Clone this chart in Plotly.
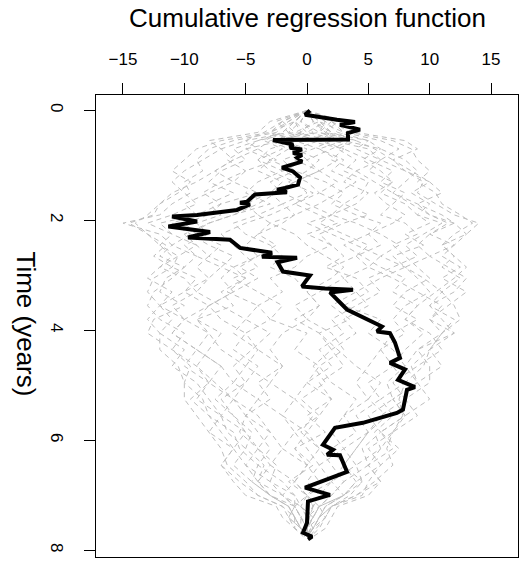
import plotly.graph_objects as go

# Observed cumulative regression function (black)
obs_time = [0.0, 0.08, 0.17, 0.21, 0.26, 0.35, 0.41, 0.53, 0.54, 0.62, 0.68, 0.71, 0.77, 0.81, 0.86, 0.93,
            1.04, 1.11, 1.22, 1.35, 1.41, 1.44, 1.49, 1.50, 1.53, 1.66, 1.68, 1.71, 1.81, 1.90, 1.93, 2.02,
            2.11, 2.21, 2.31, 2.35, 2.50, 2.59, 2.66, 2.68, 2.76, 2.93, 3.0, 3.2, 3.24, 3.26, 3.31, 3.62,
            3.80, 3.93, 4.02, 4.05, 4.22, 4.50, 4.59, 4.71, 4.90, 5.03, 5.08, 5.44, 5.50, 5.68, 5.77, 6.08,
            6.17, 6.26, 6.27, 6.57, 6.86, 6.99, 7.11, 7.50, 7.68, 7.75, 7.80]
obs_value = [0.24, -0.16, 2.44, 3.91, 2.69, 4.32, 3.34, 3.34, -2.77, -1.14, -1.39, -0.41, -1.14, -0.41, -0.81, -0.41,
             -2.04, -1.14, -0.57, -0.73, -1.79, -2.44, -1.63, -2.77, -4.24, -4.89, -5.46, -4.65, -5.71, -8.96, -11.0, -8.96,
             -11.3, -7.9, -9.7, -6.28, -5.46, -2.85, -3.67, -0.81, -2.4, -1.96, 0.24, -0.41, 1.47, 3.75, 1.87, 3.26,
             4.89, 6.11, 5.7, 6.76, 7.17, 7.58, 6.76, 7.99, 7.42, 8.8, 8.15, 7.82, 7.33, 4.56, 2.28, 1.3,
             2.12, 1.63, 2.69, 3.26, -0.16, 1.87, 0.08, 0.0, -0.33, 0.41, 0.08]

# Simulated processes under the null (grey dashed)
sim_time = [0, 0.2, 0.4, 0.55, 0.7, 0.9, 1.1, 1.3, 1.5, 1.7, 1.9, 2.05, 2.25, 2.45, 2.65, 2.85, 3.05, 3.3,
            3.55, 3.8, 4.05, 4.35, 4.65, 4.95, 5.25, 5.55, 5.85, 6.15, 6.45, 6.75, 7.0, 7.2, 7.4, 7.6, 7.75]
sim_01 = [0, -1.5, -2.5, -6, -8, -9, -8.5, -10, -9.5, -11, -12, -15, -12, -11, -9, -10, -11.5, -12, -10, -12.5, -13, -11, -9, -8, -9.5, -8, -6, -5.5, -4, -4.5, -3, -1.5, -1, -0.5, 0]
sim_02 = [0, 2, 3.5, 7, 8.5, 9, 10, 9, 10.5, 11, 12.5, 13.5, 12, 11, 12, 11, 12.5, 11, 12, 12.5, 11, 10, 9.5, 8, 7.5, 7.8, 7, 6.5, 7, 5.5, 4, 2, 1.5, 0.8, 0.2]
sim_03 = [0, 1, -1, 2, 0.5, -2, -1, 1.5, 3, 2, 4, 6, 5, 3, 4.5, 6, 8, 7, 9, 8, 10, 11, 9, 7, 8, 6, 5, 3, 4, 2, 1, 0.5, -0.5, 0.3, 0]
sim_04 = [0, -0.5, 1, -3, -4, -2.5, -5, -6, -4, -7, -8, -10, -9, -7, -8, -6, -5, -7, -6, -9, -8, -7, -5, -6, -4, -5, -3, -4, -2.5, -3, -1, -0.5, 0.2, -0.3, 0]
sim_05 = [0, 2.5, 1.5, 5, 4, 6, 5, 7, 6, 8, 9, 10, 8, 9.5, 7, 8, 6, 4, 5, 3, 4, 2, 3, 1, 2, 0, 1.5, -1, 0.5, -1.5, 0, 1, 0.5, -0.2, 0]
sim_06 = [0, -2, -3.5, -5, -7, -8.5, -10, -11, -10, -9, -11, -13, -11, -12, -10.5, -11, -12.5, -13, -12, -13, -12, -12, -10.5, -10, -10, -9, -8, -7, -6.5, -5, -4, -2, -1.5, -1, -0.3]
sim_07 = [0, 1, 2, 4, 2.5, 4, 3, 5, 4.5, 3, 5, 3, 1, 2, 0, -1, -3, -2, -4, -3, -5, -4, -2, -3, -1, -2, 0, 1, 2, 3, 2, 1, 0.5, 0, 0.2]
sim_08 = [0, -1, 0, -2, -1, 1, 0, -1.5, 0.5, -1, 1, 2.5, 0, 2, 3, 1.5, 4, 5, 3, 6, 5, 7, 8, 9, 7, 8, 6, 7, 5, 6, 4, 2, 1, 0.5, 0]
sim_09 = [0, 3, 4, 8, 9, 7, 8.5, 10, 11, 9, 10, 12, 13, 12, 10, 11.5, 13, 12, 10, 11, 12, 9, 10, 10, 8, 9, 7, 6, 5, 6, 5, 2.5, 2, 1.5, 0.5]
sim_10 = [0, -3, -4, -8, -7, -6, -7.5, -9, -11, -12, -13, -14, -13, -12, -11, -12, -10, -9, -11, -10, -8, -9, -7, -8, -6, -7, -5, -6, -7, -6, -5, -2.5, -2, -1, 0]
sim_11 = [0, 1.5, 0, 3, 1, 2.5, 1, -1, 0, -2, -1, -3, -4, -5, -4, -6, -7, -6, -8, -7, -5, -6, -4, -5, -6, -4, -3, -2, -3, -1, -2, -0.5, 0.5, 0, 0]
sim_12 = [0, -1, -2, -4, -5, -3, -4, -2, -3, -5, -4, -6, -5, -3, -2, -3, -1, 0, 1, 0, 2, 3, 1, 2, 4, 3, 2, 3, 1, 2, 0, -0.5, 0, 0.3, 0]
sim_13 = [0, 0.5, 2, 0, 3, 5, 7, 6, 8, 7, 6, 8, 9, 7, 8, 9, 10, 8, 7, 9, 7, 6, 5, 4, 5, 3, 4, 2, 3, 4, 3, 1.5, 1, 0, -0.2]
sim_14 = [0, -2, -1, -4, -6, -5, -7, -8, -6, -8, -7, -9, -8, -10, -9, -7, -8, -9, -7, -5, -6, -4, -5, -3, -4, -2, -1, -2, 0, -1, 0, -1, -0.5, -0.5, 0]
sim_15 = [0, 1, 3, 2, 5, 6, 4, 3, 5, 4, 2, 0, 2, 4, 6, 5, 7, 9, 11, 10, 12, 10, 11, 9, 10, 8, 7, 5, 6, 4, 3, 1, 1.5, 0.5, 0]
sim_16 = [0, -1, -3, -1, -3, -4, -2, -4, -5, -3, -6, -8, -10, -9, -8, -9, -8, -10, -12, -11, -12, -10, -11, -9, -8, -7, -8, -6, -5, -4, -3, -1, -1.5, -0.5, 0]
sim_17 = [0, 2, 1, 3, 6, 8, 9, 8, 7, 9, 11, 12, 10, 9, 10, 8, 9, 10, 8, 7, 8, 6, 7, 5, 6, 4, 5, 4, 3, 2, 3, 1, 0.5, 0, 0]
sim_18 = [0, -0.5, -1.5, 1, -1, 0, -2, 0, 1, -1, -3, -5, -7, -6, -5, -4, -6, -4, -2, -3, 0, -1, 1, 0, 2, 1, 0, -1, 0, 1, 0, 0.5, 0, -0.3, 0]
sim_19 = [0, 1.5, 2.5, 5, 6, 4.5, 6, 7, 5.5, 6.5, 8, 7, 5, 6, 4, 5, 3, 4, 2, 3.5, 1, 2, 0.5, 1.5, -0.5, 1, -1, 0, 1, 0, 1, 0.5, 0, 0.3, 0]
sim_20 = [0, -1.5, -3, -2, -5, -6.5, -5, -7, -8.5, -7, -9, -11, -9.5, -8, -6, -7, -5, -6.5, -4, -5, -3, -4.5, -6, -5, -7, -6, -5, -4, -5, -3, -2, -1, -0.5, 0, 0]
sim_21 = [0, 0.5, -0.5, -2, 0, -1, 1, 2.5, 1, 3, 2, 4, 6, 7.5, 6, 8, 9.5, 11, 10, 12, 11, 9, 8, 6.5, 7, 5, 6, 4.5, 5, 3, 2, 1, 0, 0.5, 0]
sim_22 = [0, -2.5, -1.5, -5, -4, -6, -7.5, -6, -8, -10, -9, -12, -11, -9, -10.5, -12, -13, -11, -12, -10, -11, -9, -7, -6, -7.5, -6, -4.5, -5, -3.5, -4, -2, -1, -1.5, -0.5, 0]
sim_23 = [0, 2, 3, 6, 7.5, 6, 8, 10, 8.5, 10, 9, 11, 9.5, 8, 9, 7, 5, 6, 4, 2, 3, 1, 2, 0, -1, 0.5, -0.5, 1, 0, -1, 0, 0.5, 0.2, 0, 0]
sim_24 = [0, -0.5, 0.5, -1, 1, 3, 2, 4, 2.5, 1, -1, -2, -4, -2.5, -4, -5.5, -4, -6, -8, -10, -11, -9, -10, -8, -9, -7, -6.5, -5, -6, -4.5, -3, -1.5, -1, -0.5, 0]
sim_25 = [0, 1, 2, 1, 3, 2, 4, 5.5, 7, 8.5, 10, 11.5, 10, 12, 11, 12.5, 11, 13, 11.5, 10, 11, 10, 8.5, 9, 7, 8, 6, 7.5, 6, 5, 4.5, 2, 1.5, 1, 0.3]
sim_26 = [0, -1, -2, -3.5, -2, -4, -3, -1, -2.5, -4, -6, -8, -9.5, -11, -12, -10, -11, -12.5, -13, -12, -10, -11, -9.5, -10, -8.5, -8, -7, -6, -7, -5.5, -4, -2, -1, -1, 0]
sim_27 = [0, 0.5, 1.5, 3.5, 2, 0, 1, -1, -3, -2, -4, -3, -1, 0, 1.5, 3, 2, 0, 1, -1, 1, 2.5, 4, 6, 5, 6.5, 5, 4, 3, 4.5, 3, 1.5, 1, 0.5, 0]
sim_28 = [0, -1, -0.5, -3, -1.5, -3, -1, -3, -2, 0, 2, 1, 3, 5, 4, 2, 3, 1, -1, 0, -2, -3, -2, -4, -3, -5, -4, -3, -4, -2, -1, -1, -0.5, 0, 0]
sim_29 = [0, 1.5, 1, 4, 5.5, 7, 8, 9.5, 9, 10.5, 12, 14, 13, 11, 12, 13, 12, 10.5, 9, 8, 9.5, 8, 7, 8, 6, 7, 5.5, 6, 4, 4.5, 3.5, 2, 1, 0.5, 0]
sim_30 = [0, -2, -3, -7, -9, -10, -11, -9.5, -10.5, -12, -12.5, -14.5, -13, -11.5, -12.5, -11, -9, -10, -8, -9, -7, -8, -9, -7.5, -6, -5, -5.5, -4, -3, -4, -3, -1.5, -1, -0.5, 0]
sim_paths = [sim_01, sim_02, sim_03, sim_04, sim_05, sim_06, sim_07, sim_08, sim_09, sim_10,
             sim_11, sim_12, sim_13, sim_14, sim_15, sim_16, sim_17, sim_18, sim_19, sim_20,
             sim_21, sim_22, sim_23, sim_24, sim_25, sim_26, sim_27, sim_28, sim_29, sim_30]

x_ticks = [-15, -10, -5, 0, 5, 10, 15]
x_tick_labels = ["\u221215", "\u221210", "\u22125", "0", "5", "10", "15"]
y_ticks = [0, 2, 4, 6, 8]
y_tick_labels = ["0", "2", "4", "6", "8"]

FONT = "Liberation Sans, Arial, Helvetica, sans-serif"

fig = go.Figure()
for p in sim_paths:
    fig.add_trace(go.Scatter(x=p, y=sim_time, mode="lines",
                             line=dict(color="#BEBEBE", width=1, dash="5px,4px"),
                             hoverinfo="skip", showlegend=False))
fig.add_trace(go.Scatter(x=obs_value, y=obs_time, mode="lines",
                         line=dict(color="black", width=4),
                         showlegend=False))

W, H = 525, 563
ml, mr, mt, mb = 96, 7, 95, 6
pw, ph = W - ml - mr, H - mt - mb

fig.update_layout(
    width=W, height=H,
    margin=dict(l=ml, r=mr, t=mt, b=mb, pad=0),
    paper_bgcolor="white", plot_bgcolor="white",
    font=dict(family=FONT, color="black", size=17),
    showlegend=False,
    xaxis=dict(side="top", range=[-17.2, 17.2], tickmode="array", tickvals=x_ticks,
               ticktext=x_tick_labels, ticks="outside", ticklen=11, tickwidth=1,
               tickcolor="black", showline=True, linecolor="black", linewidth=1,
               mirror=True, showgrid=False, zeroline=False, ticklabelstandoff=11,
               tickfont=dict(size=17)),
    yaxis=dict(range=[8.12, -0.28], tickmode="array", tickvals=y_ticks,
               ticktext=y_tick_labels, tickangle=90, ticks="outside", ticklen=11,
               tickwidth=1, tickcolor="black", showline=True, linecolor="black",
               linewidth=1, mirror=True, showgrid=False, zeroline=False,
               ticklabelstandoff=13, tickfont=dict(size=17)),
    annotations=[
        dict(text="Cumulative regression function", xref="paper", yref="paper",
             x=0.5, y=1 + (mt - 18) / ph, xanchor="center", yanchor="middle",
             showarrow=False, font=dict(size=26, family=FONT)),
        dict(text="Time (years)", xref="paper", yref="paper",
             x=(26 - ml) / pw, y=1 - (323.5 - mt) / ph, xanchor="center", yanchor="middle",
             textangle=90, showarrow=False, font=dict(size=26, family=FONT)),
    ],
)

fig.write_html("out.html")
